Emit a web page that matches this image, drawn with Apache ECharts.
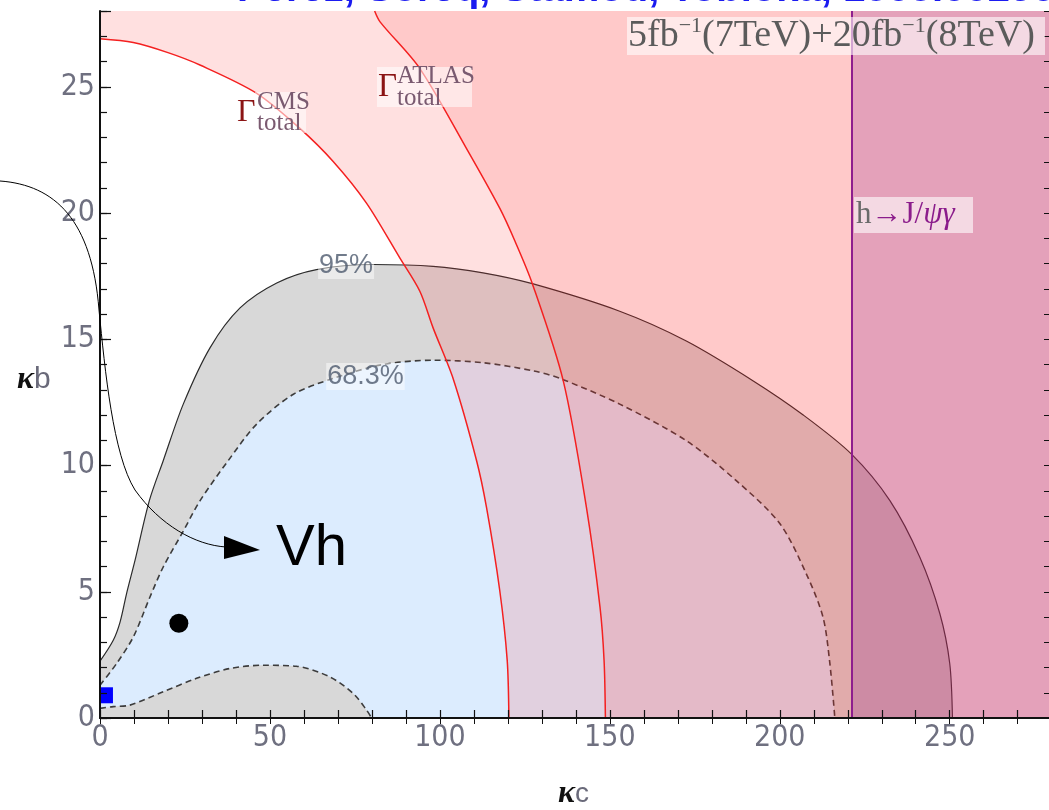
<!DOCTYPE html>
<html>
<head>
<meta charset="utf-8">
<script src="https://cdn.jsdelivr.net/npm/echarts@6/dist/echarts.min.js"></script>
<style>
  html, body { margin: 0; padding: 0; background: #ffffff; overflow: hidden; }
  #chart { width: 1049px; height: 810px; }
</style>
</head>
<body>
<div id="chart"></div>
<script>
// Axis ranges (kappa_c horizontal, kappa_b vertical)
const X_MAX = 279.5;
const Y_MAX = 28;
const xTickLabels = [0, 50, 100, 150, 200, 250];
const yTickLabels = [0, 5, 10, 15, 20, 25];

// 95% CL contour (upper boundary, region extends down to kappa_b = 0)
const cl95 = [[0, 2.25], [3.9, 3.08], [5.9, 3.8], [7.8, 4.92], [10.3, 6.24], [14.5, 8.6], [18.6, 10.19],
  [24.5, 12.43], [32.4, 14.67], [41.2, 16.24], [52.0, 17.23], [63.7, 17.76], [80.4, 17.96], [98.0, 17.89],
  [112.7, 17.63], [127.2, 17.2], [152.9, 16.11], [172.5, 14.93], [192.2, 13.35], [206.9, 12.0],
  [221.1, 10.45], [232.4, 8.61], [241.2, 6.37], [247.1, 4.13], [250.0, 2.16], [250.8, 0]];

// 68.3% CL contour, outer boundary
const cl68 = [[0, 1.3], [4.9, 2.16], [9.8, 3.21], [14.7, 4.79], [18.6, 5.98], [24.5, 7.4], [29.4, 8.6],
  [37.7, 10.19], [46.1, 11.64], [56.9, 12.82], [68.6, 13.45], [83.3, 14.0], [98.0, 14.17], [112.7, 14.07],
  [127.4, 13.75], [135.3, 13.45], [152.9, 12.43], [172.5, 10.98], [187.2, 9.4], [200.0, 7.7],
  [207.8, 5.71], [212.7, 4.0], [214.7, 2.2], [216.2, 0]];

// 68.3% CL contour, inner boundary near the kappa_c axis
const cl68Inner = [[0, 0.38], [3.9, 0.45], [8.8, 0.51], [18.6, 1.04], [28.4, 1.57], [38.2, 1.96],
  [48.0, 2.09], [57.8, 2.05], [67.6, 1.63], [74.5, 0.97], [78.4, 0.32], [79.9, 0]];

// Total width bounds
const gammaCMS = [[0, 26.9], [9.8, 26.75], [20.0, 26.35], [29.4, 25.86], [46.1, 24.74], [58.8, 23.35],
  [68.6, 22.04], [78.4, 20.39], [88.2, 18.22], [94.1, 16.9], [98.0, 15.45], [104.0, 13.4], [110.8, 10.19],
  [113.7, 8.35], [117.6, 5.06], [119.8, 2.29], [120.3, 0]];
const gammaATLAS = [[80.8, 28], [82.4, 27.57], [94.1, 25.72], [107.8, 22.56], [117.6, 20.19], [122.1, 18.88],
  [127.2, 17.2], [136.3, 13.35], [143.1, 8.35], [147.1, 4.4], [148.3, 2.29], [148.7, 0]];

// h -> J/psi gamma bound on kappa_c
const jpsiBound = 221.1;

// Points
const bestFit = [[23.2, 3.75]];
const smPoint = [[2.05, 0.9]];

// Contour labels
const contourLabels = ['95%', '68.3%'];
const contourLabelAt = [[72.4, 17.92], [78.1, 13.52]];

const tickFont = "'Liberation Sans Narrow', 'DejaVu Sans Condensed', 'Liberation Sans', sans-serif";
const serif = "'Liberation Serif', 'DejaVu Serif', serif";

const chart = echarts.init(document.getElementById('chart'), null, { renderer: 'canvas' });

function fillSeries(data, color, origin, z, line) {
  return {
    type: 'line', data: data, xAxisIndex: 0, yAxisIndex: 0,
    showSymbol: false, symbol: 'none', smooth: 0.3, silent: true, z: z,
    lineStyle: line || { width: 0, opacity: 0 },
    areaStyle: { color: color, opacity: 1, origin: origin }
  };
}

const dashed = { color: '#3c3c3c', width: 1.6, type: [6, 4] };

const series = [
  fillSeries(cl95, '#d8d8d8', 'start', 2, { color: '#2b2b2b', width: 1.2 }),
  fillSeries(cl68, '#dcecfe', 'start', 3, dashed),
  fillSeries(cl68Inner, '#d8d8d8', 'start', 3, dashed),
  fillSeries(gammaCMS.concat([[X_MAX, 0]]), 'rgba(255,60,60,0.16)', 'end', 4),
  fillSeries(gammaATLAS.concat([[X_MAX, 0]]), 'rgba(255,0,0,0.10)', 'end', 4),
  fillSeries([[jpsiBound, 0], [X_MAX, 0]], 'rgba(147,43,143,0.25)', 'end', 4),
  {
    type: 'line', data: gammaCMS, showSymbol: false, symbol: 'none', smooth: 0.3,
    silent: true, z: 5, lineStyle: { color: '#f42020', width: 1.5 }
  },
  {
    type: 'line', data: gammaATLAS, showSymbol: false, symbol: 'none', smooth: 0.3,
    silent: true, z: 5, lineStyle: { color: '#f42020', width: 1.5 },
    markLine: {
      silent: true, symbol: ['none', 'none'], label: { show: false },
      lineStyle: { color: '#8e1d8e', width: 2, type: 'solid' },
      data: [{ xAxis: jpsiBound }]
    }
  },
  {
    type: 'scatter', data: bestFit, symbol: 'circle', symbolSize: 19, silent: true, z: 6,
    itemStyle: { color: '#000000', opacity: 1 }
  },
  {
    type: 'scatter', data: smPoint, symbol: 'rect', symbolSize: [12, 16], silent: true, z: 6,
    itemStyle: { color: '#0000ff', opacity: 1 }
  },
  {
    type: 'scatter', silent: true, z: 7, symbolSize: 0,
    data: contourLabels.map((t, i) => ({ name: t, value: contourLabelAt[i] })),
    label: {
      show: true, position: 'inside', formatter: p => p.name,
      fontFamily: "'Liberation Sans', sans-serif", fontSize: 27, color: '#4d5a6e',
      backgroundColor: 'rgba(255,255,255,0.6)', padding: [0, 1, 0, 1]
    }
  }
];

const axisBase = { type: 'value', min: 0, z: 10, splitLine: { show: false } };

const option = {
  animation: false,
  backgroundColor: '#ffffff',
  grid: { left: 100, top: 11, width: 950, height: 707, containLabel: false, outerBoundsMode: 'none' },
  xAxis: [
    Object.assign({}, axisBase, {
      position: 'bottom', max: X_MAX, interval: 10,
      axisLine: { show: true, lineStyle: { color: '#111', width: 2 } },
      axisTick: { show: true, inside: true, length: 8, lineStyle: { color: '#111', width: 1.2 } },
      axisLabel: {
        show: true, margin: 5, fontSize: 30, fontFamily: tickFont, color: '#6f7080',
        formatter: v => xTickLabels.includes(v) ? String(v) : '', hideOverlap: false
      }
    }),
    Object.assign({}, axisBase, {
      position: 'top', max: X_MAX, interval: 10,
      axisLine: { show: true, lineStyle: { color: '#111', width: 1 } },
      axisTick: { show: true, inside: true, length: 6, lineStyle: { color: '#111', width: 1 } },
      axisLabel: { show: false }
    })
  ],
  yAxis: [
    Object.assign({}, axisBase, {
      position: 'left', max: Y_MAX, interval: 1,
      axisLine: { show: true, lineStyle: { color: '#111', width: 2 } },
      axisTick: { show: true, inside: true, length: 7, lineStyle: { color: '#111', width: 1.2 } },
      axisLabel: {
        show: true, margin: 5, fontSize: 30, fontFamily: tickFont, color: '#6f7080',
        formatter: v => yTickLabels.includes(v) ? String(v) : '', hideOverlap: false
      }
    }),
    Object.assign({}, axisBase, {
      position: 'left', max: Y_MAX, interval: 5,
      axisLine: { show: false },
      axisTick: { show: true, inside: true, length: 11, lineStyle: { color: '#111', width: 1.2 } },
      axisLabel: { show: false }
    }),
    Object.assign({}, axisBase, {
      position: 'right', max: Y_MAX, interval: 1,
      axisLine: { show: true, lineStyle: { color: '#111', width: 1 } },
      axisTick: { show: true, inside: true, length: 6, lineStyle: { color: '#111', width: 1 } },
      axisLabel: { show: false }
    })
  ],
  series: series,
  graphic: [
    // reference line above the frame
    { type: 'text', z: 100, silent: true, style: {
        text: 'Perez, Soreq, Stamou, Tobioka, 1503.00290', x: 237, y: -10,
        fontSize: 40, fontWeight: 'bold', fontFamily: "'Liberation Sans', sans-serif",
        fill: '#1b1bf0', align: 'left', verticalAlign: 'middle' } },

    // luminosity box
    { type: 'rect', z: 99, silent: true, shape: { x: 627, y: 17, width: 418, height: 38 },
      style: { fill: 'rgba(255,255,255,0.6)' } },
    { type: 'text', z: 100, silent: true, style: {
        x: 628, y: 15, align: 'left', verticalAlign: 'top',
        text: '{m|5fb}{s|\u22121}{m|(7TeV)+20fb}{s|\u22121}{m|(8TeV)}',
        rich: {
          m: { fontSize: 38, fontFamily: serif, fill: '#5b5b5b', lineHeight: 42 },
          s: { fontSize: 22, fontFamily: serif, fill: '#5b5b5b', lineHeight: 26, verticalAlign: 'top' }
        } } },

    // h -> J/psi gamma label
    { type: 'rect', z: 99, silent: true, shape: { x: 854, y: 197, width: 119, height: 36 },
      style: { fill: 'rgba(255,255,255,0.6)' } },
    { type: 'text', z: 100, silent: true, style: {
        x: 856, y: 215, align: 'left', verticalAlign: 'middle',
        text: '{h|h}{p|\u2192J/}{i|\u03c8\u03b3}',
        rich: {
          h: { fontSize: 31, fontFamily: serif, fill: '#6a6a6a' },
          p: { fontSize: 31, fontFamily: serif, fill: '#8b1c8b' },
          i: { fontSize: 31, fontFamily: serif, fontStyle: 'italic', fill: '#8b1c8b' }
        } } },

    // Gamma_total CMS label
    { type: 'rect', z: 99, silent: true, shape: { x: 255, y: 92, width: 51, height: 41 },
      style: { fill: 'rgba(255,255,255,0.55)' } },
    { type: 'text', z: 100, silent: true, style: { text: '\u0393', x: 237, y: 113, fontSize: 32,
        fontFamily: serif, fill: '#8b1414', align: 'left', verticalAlign: 'middle' } },
    { type: 'text', z: 100, silent: true, style: { text: 'CMS', x: 257, y: 102, fontSize: 25,
        fontFamily: serif, fill: '#7a5a70', align: 'left', verticalAlign: 'middle' } },
    { type: 'text', z: 100, silent: true, style: { text: 'total', x: 257, y: 123, fontSize: 25,
        fontFamily: serif, fill: '#7a5a70', align: 'left', verticalAlign: 'middle' } },

    // Gamma_total ATLAS label
    { type: 'rect', z: 99, silent: true, shape: { x: 377, y: 67, width: 95, height: 40 },
      style: { fill: 'rgba(255,255,255,0.55)' } },
    { type: 'text', z: 100, silent: true, style: { text: '\u0393', x: 378, y: 87, fontSize: 33,
        fontFamily: serif, fill: '#8b1414', align: 'left', verticalAlign: 'middle' } },
    { type: 'text', z: 100, silent: true, style: { text: 'ATLAS', x: 397, y: 76, fontSize: 25,
        fontFamily: serif, fill: '#7a5a70', align: 'left', verticalAlign: 'middle' } },
    { type: 'text', z: 100, silent: true, style: { text: 'total', x: 397, y: 98, fontSize: 25,
        fontFamily: serif, fill: '#7a5a70', align: 'left', verticalAlign: 'middle' } },

    // axis titles
    { type: 'text', z: 100, silent: true, style: {
        x: 17, y: 380, align: 'left', verticalAlign: 'middle', text: '{k|\u03ba}{b|b}',
        rich: {
          k: { fontSize: 32, fontFamily: serif, fontStyle: 'italic', fontWeight: 'bold', fill: '#111' },
          b: { fontSize: 30, fontFamily: "'Liberation Sans', sans-serif", fill: '#6a6a7a' }
        } } },
    { type: 'text', z: 100, silent: true, style: {
        x: 558, y: 794, align: 'left', verticalAlign: 'middle', text: '{k|\u03ba}{b|c}',
        rich: {
          k: { fontSize: 32, fontFamily: serif, fontStyle: 'italic', fontWeight: 'bold', fill: '#111' },
          b: { fontSize: 28, fontFamily: "'Liberation Sans', sans-serif", fill: '#6a6a7a' }
        } } },

    // Vh annotation with arrow
    { type: 'bezierCurve', z: 100, silent: true,
      shape: { x1: 0, y1: 181, cpx1: 55, cpy1: 185, cpx2: 92, cpy2: 220, x2: 99, y2: 310 },
      style: { stroke: '#000', lineWidth: 1, fill: null } },
    { type: 'bezierCurve', z: 100, silent: true,
      shape: { x1: 99, y1: 310, cpx1: 105, cpy1: 370, cpx2: 113, cpy2: 455, x2: 135, y2: 490 },
      style: { stroke: '#000', lineWidth: 1, fill: null } },
    { type: 'bezierCurve', z: 100, silent: true,
      shape: { x1: 135, y1: 490, cpx1: 160, cpy1: 525, cpx2: 195, cpy2: 545, x2: 226, y2: 547 },
      style: { stroke: '#000', lineWidth: 1, fill: null } },
    { type: 'polygon', z: 100, silent: true,
      shape: { points: [[224, 536], [260, 550], [224, 559]] }, style: { fill: '#000' } },
    { type: 'text', z: 100, silent: true, style: { text: 'Vh', x: 276, y: 549, fontSize: 58,
        fontFamily: "'Liberation Sans', Arial, sans-serif", fill: '#000', align: 'left', verticalAlign: 'middle' } }
  ]
};

chart.setOption(option);
</script>
</body>
</html>
